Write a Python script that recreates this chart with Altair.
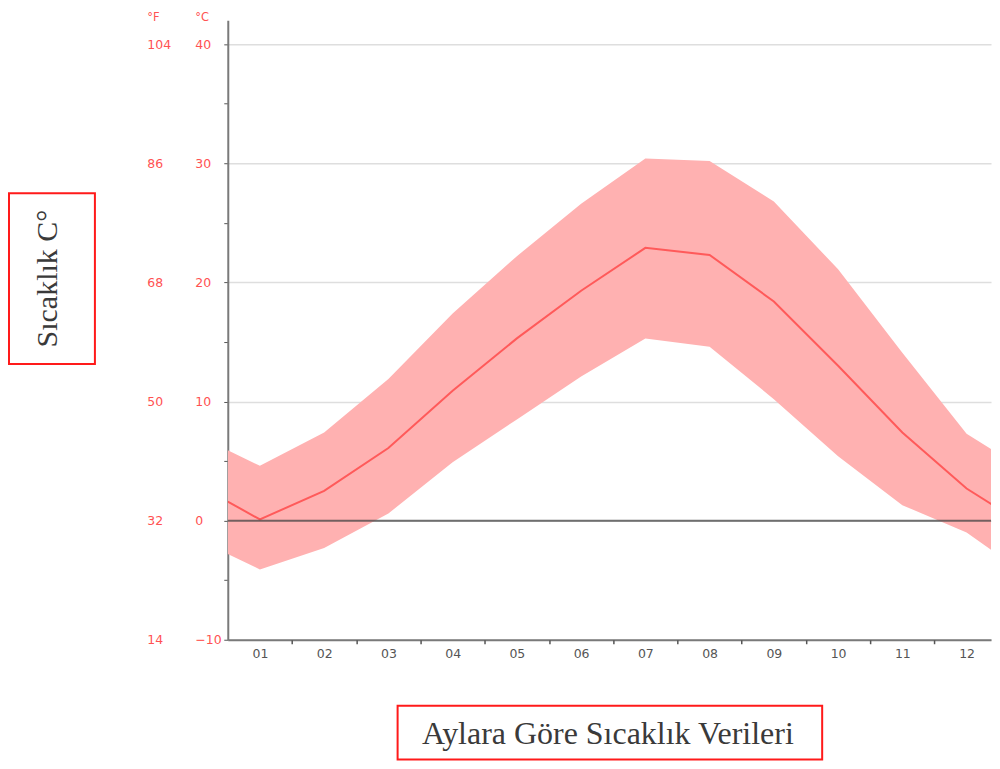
import json
import altair as alt
import pandas as pd

# ---- data ----
month_pos = [0.5, 1, 2, 3, 4, 5, 6, 7, 8, 9, 10, 11, 12, 12.5]
mean_c = [1.6, 0.1, 2.5, 6.1, 10.9, 15.3, 19.3, 22.9, 22.3, 18.4, 13.0, 7.4, 2.7, 1.0]
upper_c = [5.9, 4.6, 7.4, 11.9, 17.4, 22.2, 26.6, 30.4, 30.2, 26.8, 21.1, 14.1, 7.3, 5.6]
lower_c = [-2.8, -4.1, -2.3, 0.6, 4.9, 8.5, 12.1, 15.3, 14.6, 10.2, 5.4, 1.3, -1.0, -2.9]

month_ticks = [1, 2, 3, 4, 5, 6, 7, 8, 9, 10, 11, 12]
month_labels = ["01", "02", "03", "04", "05", "06", "07", "08", "09", "10", "11", "12"]
boundary_ticks = [1.5, 2.5, 3.5, 4.5, 5.5, 6.5, 7.5, 8.5, 9.5, 10.5, 11.5]
c_ticks = [-10, -5, 0, 5, 10, 15, 20, 25, 30, 35, 40]
c_major = [-10, 0, 10, 20, 30, 40]
f_labels = ["14", "32", "50", "68", "86", "104"]
zero_line = [0]

x_title = "Aylara Göre Sıcaklık Verileri"
y_title = "Sıcaklık C°"

df = pd.DataFrame({"m": month_pos, "mean": mean_c, "hi": upper_c, "lo": lower_c})

xscale = alt.Scale(domain=[0.5, 12.38], nice=False, zero=False)
yscale = alt.Scale(domain=[-10, 42], nice=False, zero=False)

RED = "#ff5252"
AXIS_GRAY = "#7a7a7a"

band = alt.Chart(df).mark_area(color="#ffb1b1", opacity=1, clip=True).encode(
    x=alt.X("m:Q", scale=xscale, axis=alt.Axis(
        orient="bottom",
        values=month_ticks,
        labelExpr=json.dumps(month_labels) + "[datum.value - 1]",
        ticks=False, tickSize=0, grid=False,
        domainColor=AXIS_GRAY, domainWidth=2,
        labelColor="#555555", labelFontSize=12.5, labelFont="DejaVu Sans",
        labelPadding=8,
        title=x_title, titleFont="Liberation Serif", titleFontSize=32,
        titleFontWeight="normal", titleColor="#3a3a3a",
        titleX=380, titleY=93.5, titleAlign="center", titleBaseline="middle", titleAngle=0)),
    y=alt.Y("lo:Q", scale=yscale, axis=alt.Axis(
        orient="left",
        values=c_ticks,
        labelExpr="datum.value % 10 == 0 ? datum.label : ''",
        ticks=True, tickSize=4, tickColor="#555555", grid=False,
        domainColor=AXIS_GRAY, domainWidth=2,
        labelColor=RED, labelFontSize=12.5, labelFont="DejaVu Sans",
        labelAlign="left", labelBaseline="middle", labelPadding=29,
        title="°C", titleFont="DejaVu Sans", titleFontSize=11.5, titleFontWeight="normal",
        titleColor=RED, titleAngle=0, titleX=-33, titleY=0,
        titleAlign="left", titleBaseline="alphabetic")),
    y2="hi:Q",
)

line = alt.Chart(df).mark_line(color="#ff5a5a", strokeWidth=2, clip=True).encode(
    x=alt.X("m:Q", scale=xscale, axis=alt.Axis(
        orient="bottom",
        values=boundary_ticks, labels=False, ticks=True, tickSize=4,
        tickColor="#555555", tickWidth=1.5, domain=False, grid=False, title=None)),
    y=alt.Y("mean:Q", scale=yscale, axis=alt.Axis(
        orient="left",
        values=c_major,
        labelExpr=json.dumps(f_labels) + "[(datum.value + 10) / 10]",
        ticks=False, tickSize=0, domain=False,
        grid=True, gridColor="#dedede", gridWidth=1.5,
        labelColor=RED, labelFontSize=12.5, labelFont="DejaVu Sans",
        labelAlign="left", labelBaseline="middle", labelPadding=81,
        title="°F", titleFont="DejaVu Sans", titleFontSize=11.5, titleFontWeight="normal",
        titleColor=RED, titleAngle=0, titleX=-81, titleY=0,
        titleAlign="left", titleBaseline="alphabetic")),
)

zero = alt.Chart(pd.DataFrame({"z": zero_line})).mark_rule(
    color="#444444", strokeWidth=2, opacity=0.75).encode(
    y=alt.Y("z:Q", scale=yscale, axis=alt.Axis(
        orient="left",
        labels=False, ticks=False, domain=False, grid=False,
        title=y_title, titleFont="Liberation Serif", titleFontSize=30,
        titleFontWeight="normal", titleColor="#3a3a3a",
        titleAngle=270, titleX=-180, titleY=258,
        titleAlign="center", titleBaseline="middle")),
)

one = alt.Data(values=[{"k": 1}])
box_y = alt.Chart(one).mark_rect(filled=False, stroke="#ff1a1a", strokeWidth=2).encode(
    x=alt.value(-219), x2=alt.value(-133), y=alt.value(173), y2=alt.value(344))
box_x = alt.Chart(one).mark_rect(filled=False, stroke="#ff1a1a", strokeWidth=2).encode(
    x=alt.value(170), x2=alt.value(595), y=alt.value(686), y2=alt.value(740))

chart = alt.layer(band, line, zero, box_y, box_x).resolve_axis(
    x="independent", y="independent"
).properties(
    width=764, height=620,
    padding={"left": 0, "top": 3, "right": 0, "bottom": 0},
).configure_view(strokeWidth=0)

chart.save("out.html", embed_options={"renderer": "svg", "actions": False})
